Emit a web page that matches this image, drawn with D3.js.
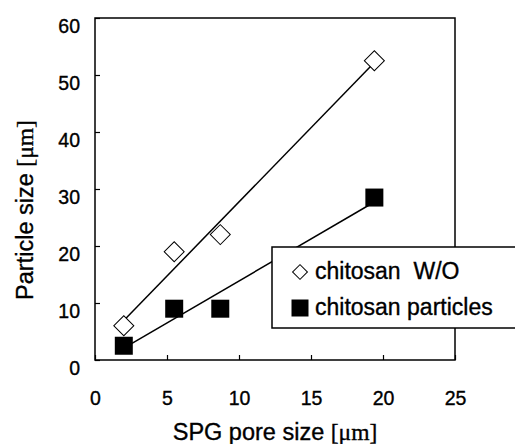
<!DOCTYPE html>
<html>
<head>
  <meta charset="utf-8">
  <title>Particle size vs SPG pore size</title>
  <style>
    body { margin: 0; background: #fff; }
    text { font-family: "Liberation Sans", Arial, sans-serif; fill: #000; stroke: #000; stroke-width: 0.35px; }
  </style>
</head>
<body>
  <div class="container"></div>

  <script src="https://d3js.org/d3.v7.min.js"></script>
  <script type="text/javascript">
    var poreSize = [2, 5.5, 8.7, 19.4];
    var chitosanWO = [6, 19, 22, 52.5];
    var chitosanParticles = [2.5, 9, 9, 28.5];
    var xTicks = [0, 5, 10, 15, 20, 25];
    var yTicks = [0, 10, 20, 30, 40, 50, 60];

    var margin = {top: 18, right: 60, bottom: 84, left: 95},
        width = 515 - margin.left - margin.right,
        height = 444 - margin.top - margin.bottom;

    var svg = d3.select(".container")
      .append("svg")
      .attr("width", 515)
      .attr("height", 444);

    var g = svg.append("g")
      .attr("transform", "translate(" + margin.left + "," + margin.top + ")");

    var xScale = d3.scaleLinear().domain([0, 25]).range([0, width]);
    var yScale = d3.scaleLinear().domain([0, 60]).range([height, 0]);

    // frame
    g.append("rect")
      .attr("width", width).attr("height", height)
      .attr("fill", "none").attr("stroke", "#000").attr("stroke-width", 1.5);

    var yAxis = g.append("g")
      .call(d3.axisLeft(yScale).tickValues(yTicks).tickSize(-5).tickPadding(15));
    yAxis.select(".domain").remove();
    yAxis.selectAll("line").attr("stroke-width", 1.2);
    yAxis.selectAll("text").attr("font-size", 19.5).attr("dy", "0.72em")
      .style("font-family", "'Liberation Sans', Arial, sans-serif");

    var xAxis = g.append("g")
      .attr("transform", "translate(0," + height + ")")
      .call(d3.axisBottom(xScale).tickValues(xTicks).tickSize(-5).tickPadding(31));
    xAxis.select(".domain").remove();
    xAxis.selectAll("line").attr("stroke-width", 1.2);
    xAxis.selectAll("text").attr("font-size", 19.5)
      .style("font-family", "'Liberation Sans', Arial, sans-serif");

    // least squares trend lines
    function fit(xs, ys) {
      var mx = d3.mean(xs), my = d3.mean(ys);
      var sxy = d3.sum(xs, function(x, i){ return (x - mx) * (ys[i] - my); });
      var sxx = d3.sum(xs, function(x){ return (x - mx) * (x - mx); });
      var b = sxy / sxx;
      return function(x){ return my + b * (x - mx); };
    }
    [chitosanWO, chitosanParticles].forEach(function(ys) {
      var f = fit(poreSize, ys);
      var x0 = d3.min(poreSize), x1 = d3.max(poreSize);
      g.append("line")
        .attr("x1", xScale(x0)).attr("y1", yScale(f(x0)))
        .attr("x2", xScale(x1)).attr("y2", yScale(f(x1)))
        .attr("stroke", "#000").attr("stroke-width", 1.5);
    });

    var diamond = d3.symbol().type(d3.symbolSquare).size(200);
    var square = d3.symbol().type(d3.symbolSquare).size(324);

    g.selectAll(".wo")
      .data(poreSize)
      .enter().append("path")
      .attr("class", "wo")
      .attr("d", diamond)
      .attr("transform", function(d, i){ return "translate(" + xScale(d) + "," + yScale(chitosanWO[i]) + ") rotate(45)"; })
      .attr("fill", "#fff").attr("stroke", "#000").attr("stroke-width", 1);

    g.selectAll(".cp")
      .data(poreSize)
      .enter().append("path")
      .attr("class", "cp")
      .attr("d", square)
      .attr("transform", function(d, i){ return "translate(" + xScale(d) + "," + yScale(chitosanParticles[i]) + ")"; })
      .attr("fill", "#000");

    // legend
    var lg = svg.append("g").attr("transform", "translate(272,247)");
    lg.append("rect")
      .attr("width", 260).attr("height", 81)
      .attr("fill", "#fff").attr("stroke", "#000").attr("stroke-width", 1.5);
    lg.append("path")
      .attr("d", d3.symbol().type(d3.symbolSquare).size(110))
      .attr("transform", "translate(28,25) rotate(45)")
      .attr("fill", "#fff").attr("stroke", "#000").attr("stroke-width", 1);
    lg.append("path")
      .attr("d", d3.symbol().type(d3.symbolSquare).size(289))
      .attr("transform", "translate(28,61)")
      .attr("fill", "#000");
    lg.append("text").attr("x", 43).attr("y", 32)
      .attr("font-size", 23).attr("xml:space", "preserve").text("chitosan  W/O");
    lg.append("text").attr("x", 43).attr("y", 68)
      .attr("font-size", 23).text("chitosan particles");

    // axis titles
    var xt = svg.append("text")
      .attr("x", 275).attr("y", 440)
      .attr("text-anchor", "middle").attr("font-size", 23.5);
    xt.append("tspan").text("SPG pore size ");
    xt.append("tspan").style("font-family", "'Liberation Serif', 'Times New Roman', serif").text("[\u03bcm]");

    var yt = svg.append("text")
      .attr("transform", "translate(33,210) rotate(-90)")
      .attr("text-anchor", "middle").attr("font-size", 23.5);
    yt.append("tspan").text("Particle size ");
    yt.append("tspan").style("font-family", "'Liberation Serif', 'Times New Roman', serif").text("[\u03bcm]");
  </script>
</body>
</html>
